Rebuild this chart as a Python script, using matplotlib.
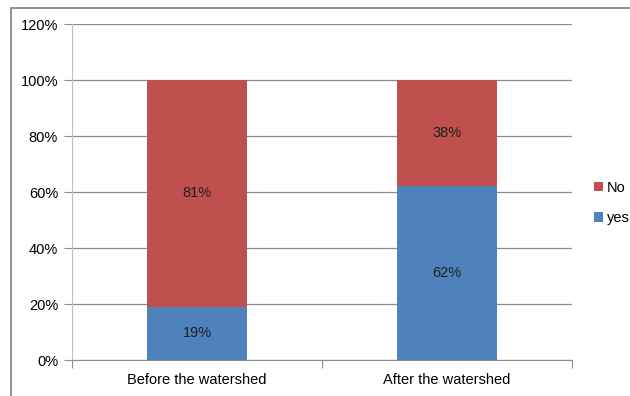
import matplotlib
matplotlib.use('Agg')
import matplotlib.pyplot as plt
from matplotlib.patches import Rectangle
import numpy as np

# survey answers per period (percent)
categories = ['Before the watershed', 'After the watershed']
yes_vals = [19, 62]
no_vals = [81, 38]
y_ticks = [0, 20, 40, 60, 80, 100, 120]

BLUE = '#4F81BD'
RED = '#C0504D'
GRID = '#8C8C8C'
FS = 10.5

plt.rcParams['font.family'] = ['Liberation Sans', 'DejaVu Sans']

fig = plt.figure(figsize=(6.3, 3.96), dpi=100, facecolor='white')
ax = fig.add_axes([72 / 630, 36 / 396, 500 / 630, 336 / 396])

# outer chart frame, runs off the right and bottom edges
fig.patches.append(Rectangle((11 / 630, -0.05), 1.0, (396 - 8) / 396 + 0.05,
                             transform=fig.transFigure, fill=False,
                             edgecolor='#7F7F7F', linewidth=1.2))

x = np.arange(len(categories))
w = 0.4
ax.bar(x, yes_vals, width=w, color=BLUE, label='yes', zorder=3)
ax.bar(x, no_vals, width=w, bottom=yes_vals, color=RED, label='No', zorder=3)

for i in range(len(categories)):
    ax.text(x[i], yes_vals[i] / 2, f'{yes_vals[i]}%', ha='center', va='center',
            fontsize=FS, color='#1F1F1F', zorder=4)
    ax.text(x[i], yes_vals[i] + no_vals[i] / 2, f'{no_vals[i]}%', ha='center',
            va='center', fontsize=FS, color='#1F1F1F', zorder=4)

ax.set_xlim(-0.5, 1.5)
ax.set_ylim(0, 120)
ax.set_yticks(y_ticks)
ax.set_yticklabels([f'{t}%' for t in y_ticks])
ax.yaxis.grid(True, color=GRID, linewidth=0.9, zorder=0)

ax.set_xticks([-0.5, 0.5, 1.5])
ax.set_xticklabels([])
ax.set_xticks(x, minor=True)
ax.set_xticklabels(categories, minor=True)
ax.tick_params(axis='x', which='minor', length=0, pad=9, labelsize=FS)
ax.tick_params(axis='x', which='major', length=6, color=GRID)
ax.tick_params(axis='y', length=6, color=GRID, labelsize=FS, pad=4)

for s in ['top', 'right']:
    ax.spines[s].set_visible(False)
ax.spines['left'].set_color('#BFBFBF')
ax.spines['bottom'].set_color(GRID)

handles, labels = ax.get_legend_handles_labels()
fig.legend(handles[::-1], labels[::-1], loc='center left',
           bbox_to_anchor=(594 / 630, 1 - 203 / 396), frameon=False,
           borderpad=0, borderaxespad=0,
           fontsize=FS, handlelength=0.6, handleheight=0.6,
           handletextpad=0.3, labelspacing=1.1)

fig.savefig('out.png', dpi=100, facecolor='white')
